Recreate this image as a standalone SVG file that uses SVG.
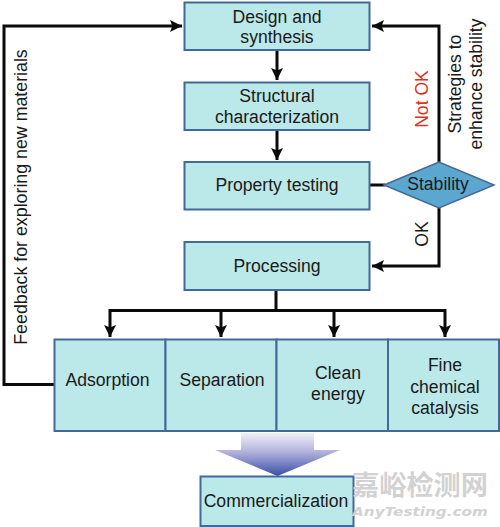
<svg xmlns="http://www.w3.org/2000/svg" width="500" height="527" viewBox="0 0 500 527">
<style>
.b{fill:#bbe8e8;stroke:#44689a;stroke-width:2}
.t{font-family:"Liberation Sans",Arial,sans-serif;font-size:17.6px;fill:#1a1a1a;text-anchor:middle}
.c{fill:none;stroke:#0a0a0a;stroke-width:3}
</style>
<defs>
<marker id="a" markerUnits="userSpaceOnUse" markerWidth="12" markerHeight="12" refX="10" refY="5" orient="auto" viewBox="0 0 10 10"><path d="M0 0L10 5L0 10L2 5Z" fill="#0a0a0a"/></marker>
<linearGradient id="g" x1="0" y1="0" x2="0" y2="1"><stop offset="0" stop-color="#f0f0f8"/><stop offset="0.45" stop-color="#b0b0dc"/><stop offset="1" stop-color="#3a4ea6"/></linearGradient>
</defs>
<rect width="500" height="527" fill="#fff"/>
<g id="connectors">
<path class="c" d="M277 51V80" marker-end="url(#a)"/>
<path class="c" d="M277 131V160" marker-end="url(#a)"/>
<path class="c" d="M370 185H385"/>
<path class="c" d="M439 162V26H372" marker-end="url(#a)"/>
<path class="c" d="M439 208V266H372" marker-end="url(#a)"/>
<path class="c" d="M276 290V310.500"/>
<path class="c" d="M110 325V310.500H445V325"/>
<path class="c" d="M110 325V337" marker-end="url(#a)"/>
<path class="c" d="M221 311V337" marker-end="url(#a)"/>
<path class="c" d="M334 311V337" marker-end="url(#a)"/>
<path class="c" d="M445 325V337" marker-end="url(#a)"/>
<path class="c" d="M54 384.500H4V26H182" marker-end="url(#a)"/>
</g>
<g id="design"><rect class="b" x="184.500" y="2.500" width="185" height="47.500"/><text class="t" x="277" y="23">Design and</text><text class="t" x="277" y="43">synthesis</text></g>
<g id="structural"><rect class="b" x="184.500" y="82.500" width="185" height="47.500"/><text class="t" x="277" y="102">Structural</text><text class="t" x="277" y="123">characterization</text></g>
<g id="property"><rect class="b" x="184.500" y="162" width="185" height="47.500"/><text class="t" x="277" y="191">Property testing</text></g>
<g id="stability"><path d="M384 185L439 162L494 185L439 208Z" fill="#5ba7cf" stroke="#44689a" stroke-width="1.500"/><text class="t" x="438" y="190">Stability</text></g>
<g id="processing"><rect class="b" x="184.500" y="242" width="185" height="48"/><text class="t" x="277" y="272">Processing</text></g>
<g id="adsorption"><rect class="b" x="54.500" y="339.500" width="111" height="91.500"/><text class="t" x="107.500" y="386">Adsorption</text></g>
<g id="separation"><rect class="b" x="165.500" y="339.500" width="111" height="91.500"/><text class="t" x="222" y="386">Separation</text></g>
<g id="clean"><rect class="b" x="276.500" y="339.500" width="111.500" height="91.500"/><text class="t" x="338" y="379">Clean</text><text class="t" x="338" y="400">energy</text></g>
<g id="fine"><rect class="b" x="388" y="339.500" width="111" height="91.500"/><text class="t" x="445" y="371">Fine</text><text class="t" x="445" y="393">chemical</text><text class="t" x="445" y="414">catalysis</text></g>
<path id="bigarrow" d="M241 433H314V450H340L277.500 476L215 450H241Z" fill="url(#g)"/>
<g id="commercialization"><rect class="b" x="200.500" y="476.500" width="153" height="49.500"/><text class="t" x="276" y="507">Commercialization</text></g>
<g id="side-labels">
<text class="t" transform="translate(27 197) rotate(-90)" style="font-size:17.8px">Feedback for exploring new materials</text>
<text class="t" transform="translate(428 99) rotate(-90)" style="fill:#e0301e">Not OK</text>
<text class="t" transform="translate(461 84) rotate(-90)">Strategies to</text>
<text class="t" transform="translate(482 84) rotate(-90)">enhance stability</text>
<text class="t" transform="translate(428 234) rotate(-90)">OK</text>
</g>
<g id="watermark" fill="#d2d2d2">
<text x="352" y="495" style="font-family:'Noto Sans CJK SC',sans-serif;font-size:27px;font-weight:700" textLength="136" lengthAdjust="spacingAndGlyphs">嘉峪检测网</text>
<text x="352" y="516" style="font-family:'DejaVu Sans',sans-serif;font-size:13px;font-weight:700;font-style:italic" textLength="136" lengthAdjust="spacingAndGlyphs">AnyTesting.com</text>
</g>
</svg>
